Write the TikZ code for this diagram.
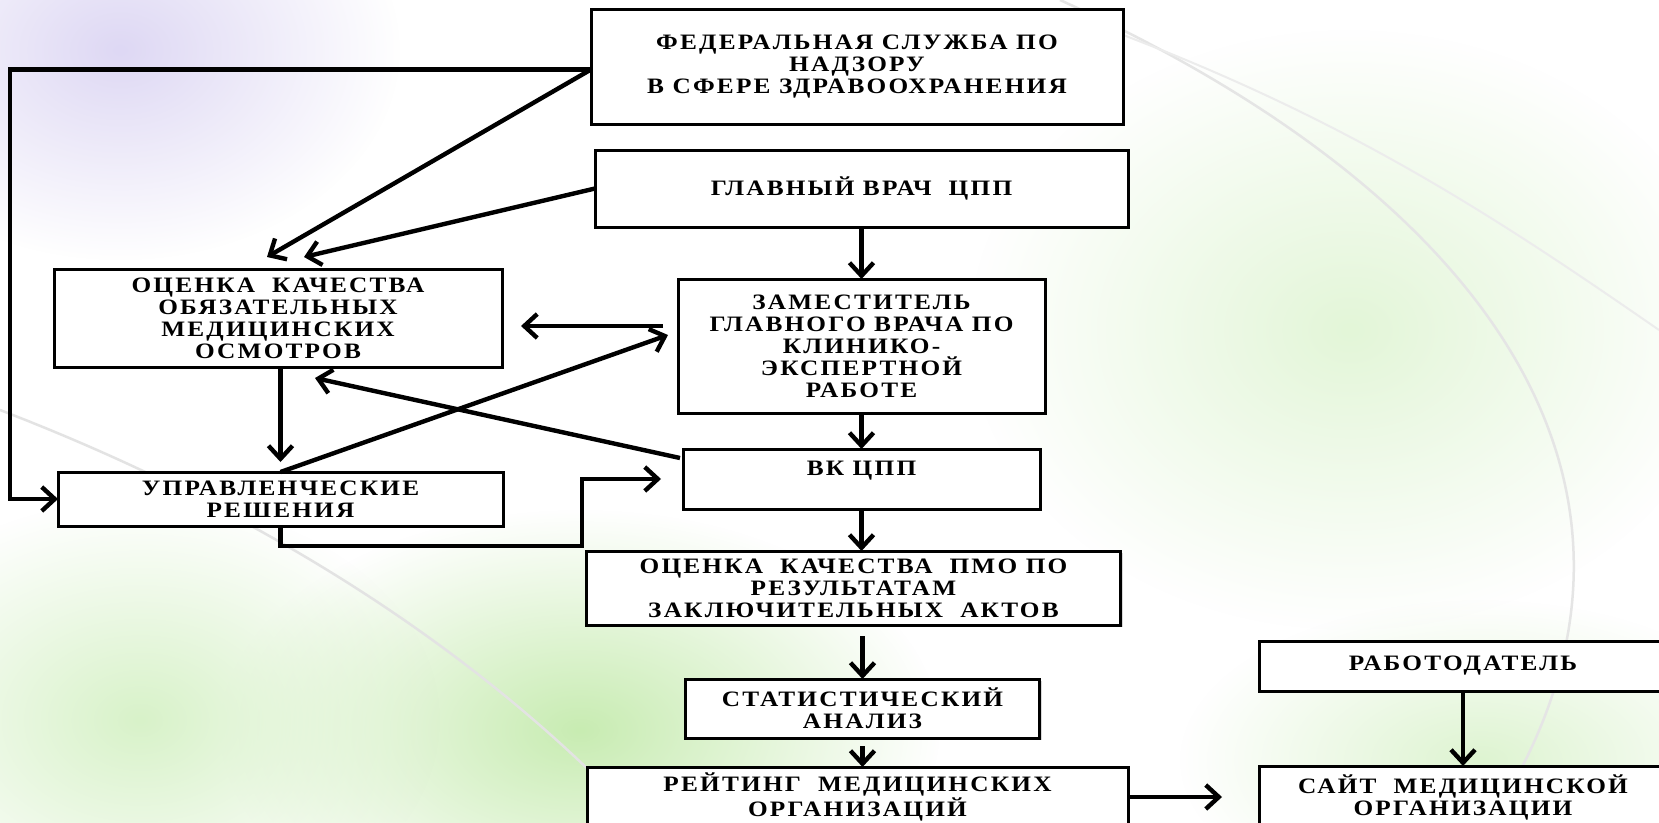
\documentclass[tikz,border=0pt]{standalone}
\usepackage{fontspec}
\newfontfamily\boxfont{Liberation Serif}[FakeStretch=1.15,LetterSpace=10]
\usetikzlibrary{positioning}
\usetikzlibrary{calc}
\usetikzlibrary{arrows.meta,shadows,fadings}

\definecolor{lavender}{RGB}{222,216,244}
\definecolor{softgreen}{RGB}{200,236,178}
\tikzfading[name=softglow, inner color=transparent!0, outer color=transparent!100]

\tikzset{
  blk/.style={draw, line width=3pt, fill=white, align=center, inner sep=2pt, outer sep=0pt,
    font={\boxfont\bfseries\fontsize{22}{22}\selectfont},
    drop shadow={shadow xshift=2pt, shadow yshift=-2pt, opacity=.3}},
  arr/.style={line width=4.4pt, -{Straight Barb[length=13pt,width=24pt,line width=4.4pt]}},
}

\begin{document}
\begin{tikzpicture}[x=1pt, y=-1pt, node distance=30pt]
  \useasboundingbox (0,0) rectangle (1659,822);
  \clip (0,0) rectangle (1659,822);
  % background
  \fill[white] (0,0) rectangle (1659,822);
  \fill[lavender, path fading=softglow] (120,50) ellipse (280 and 210);
  \fill[softgreen, path fading=softglow] (580,730) ellipse (360 and 220);
  \fill[softgreen!70, path fading=softglow] (140,720) ellipse (300 and 220);
  \fill[softgreen!50, path fading=softglow] (1350,330) ellipse (380 and 300);
  \fill[softgreen!60, path fading=softglow] (1480,760) ellipse (300 and 160);
  \draw[gray!22, line width=2.5pt] (0,410) .. controls (260,510) and (480,650) .. (640,822);
  \draw[gray!20, line width=2.5pt] (1060,0) .. controls (1500,200) and (1700,500) .. (1490,822);
  \draw[gray!15, line width=2pt] (1110,30) .. controls (1350,120) and (1500,220) .. (1659,330);

  % central column
  \node[blk, minimum width=533pt, minimum height=77pt] (glavny) at (861.5,188.5) {ГЛАВНЫЙ ВРАЧ~ ЦПП};
  \node[blk, minimum width=532pt, minimum height=115pt, above=26pt of glavny, xshift=-4.5pt] (fed)
    {ФЕДЕРАЛЬНАЯ СЛУЖБА ПО\\НАДЗОРУ\\В СФЕРЕ ЗДРАВООХРАНЕНИЯ};
  \node[blk, minimum width=367pt, minimum height=134pt, below=52pt of glavny] (zam)
    {ЗАМЕСТИТЕЛЬ\\ГЛАВНОГО ВРАЧА ПО\\КЛИНИКО-\\ЭКСПЕРТНОЙ\\РАБОТЕ};
  \node[blk, minimum width=357pt, minimum height=60pt, below=36pt of zam] (vk) {ВК ЦПП\\~};
  \node[blk, minimum width=534pt, minimum height=74pt, below=42pt of vk, xshift=-8pt] (pmo)
    {ОЦЕНКА~ КАЧЕСТВА~ ПМО ПО\\РЕЗУЛЬТАТАМ\\ЗАКЛЮЧИТЕЛЬНЫХ~ АКТОВ};
  \node[blk, minimum width=354pt, minimum height=59pt, below=54pt of pmo, xshift=9pt] (stat)
    {СТАТИСТИЧЕСКИЙ\\АНАЛИЗ};
  \node[blk, minimum width=541pt, minimum height=60pt, below=29pt of stat, xshift=-5pt] (reit)
    {РЕЙТИНГ~ МЕДИЦИНСКИХ\\ОРГАНИЗАЦИЙ};

  % left column
  \node[blk, minimum width=448pt, minimum height=98pt] (omo) at (278,318)
    {ОЦЕНКА~ КАЧЕСТВА\\ОБЯЗАТЕЛЬНЫХ\\МЕДИЦИНСКИХ\\ОСМОТРОВ};
  \node[blk, minimum width=445pt, minimum height=54pt, below=105pt of omo, xshift=2.5pt] (upr)
    {УПРАВЛЕНЧЕСКИЕ\\РЕШЕНИЯ};

  % right column
  \node[blk, minimum width=408pt, minimum height=50pt] (rab) at (1463,666) {РАБОТОДАТЕЛЬ};
  \node[blk, minimum width=408pt, minimum height=62pt, below=75pt of rab] (sait)
    {САЙТ~ МЕДИЦИНСКОЙ\\ОРГАНИЗАЦИИ};

  \coordinate (lft) at (10,0);
  \coordinate (elb) at (582,546);

  \draw[arr] ($(fed.west)+(0,3)$) -- ($(fed.west -| lft)+(0,3)$) |- (upr.west);
  \draw[arr] ($(fed.west)+(0,3)$) -- ($(omo.north)+(-11,-12)$);
  \draw[arr] (glavny.west) -- ($(omo.north)+(26,-12)$);
  \draw[arr] ($(zam.west)+(-15,-20)$) -- ($(omo.east)+(19,8)$);
  \draw[arr] (upr.north) -- ($(zam.west)+(-10,-11)$);
  \draw[arr] ($(vk.north west)+(-3,9)$) -- ($(omo.south)+(37,11)$);
  \draw[arr, shorten >=10pt] (omo.south -| upr.north) -- (upr.north);
  \draw[arr, shorten >=22pt] (upr.south) |- (elb) |- (vk.west);

  \draw[arr] (glavny.south -| zam.north) -- (zam.north);
  \draw[arr] (zam) -- (vk);
  \draw[arr] (vk.south) -- (vk.south |- pmo.north);
  \draw[arr] ($(pmo.south -| stat.north)+(0,11)$) -- (stat.north);
  \draw[arr] ($(stat.south)+(0,8)$) -- (stat.south |- reit.north);
  \draw[arr, shorten >=37pt] (reit.east) -- (reit.east -| sait.west);
  \draw[arr] (rab) -- (sait);
\end{tikzpicture}
\end{document}
